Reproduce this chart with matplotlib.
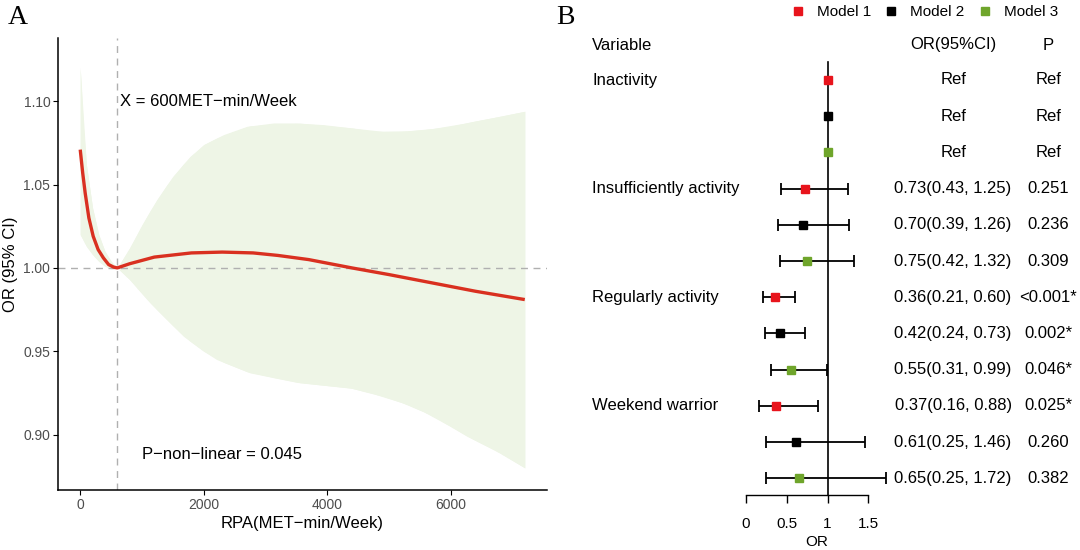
import numpy as np
import matplotlib.pyplot as plt
from matplotlib.lines import Line2D

plt.rcParams['font.family'] = ['Liberation Sans', 'DejaVu Sans']

# ---- Panel A: restricted cubic spline, OR vs RPA ----
rpa_x = [0, 40, 80, 140, 210, 290, 375, 460, 540, 600, 800, 1200, 1800, 2300,
         2800, 3200, 3700, 4400, 5000, 5700, 6400, 7200]
rpa_or = [1.071, 1.057, 1.045, 1.030, 1.019, 1.011, 1.006, 1.002, 1.0005, 1.000,
          1.0025, 1.0065, 1.009, 1.0095, 1.009, 1.0075, 1.005, 1.000, 0.996,
          0.991, 0.986, 0.981]

ci_up_x = [0, 50, 100, 200, 300, 400, 500, 600, 800, 1000, 1240, 1500, 1780,
           2000, 2320, 2700, 3130, 3500, 3940, 4400, 4750, 5200, 5560, 6000,
           6370, 6800, 7200]
ci_up = [1.12, 1.085, 1.062, 1.036, 1.020, 1.010, 1.004, 1.000, 1.012, 1.026,
         1.041, 1.055, 1.067, 1.074, 1.080, 1.085, 1.087, 1.087, 1.086, 1.084,
         1.082, 1.082, 1.083, 1.085, 1.088, 1.091, 1.094]
ci_lo_x = [0, 100, 200, 300, 400, 500, 600, 800, 1130, 1400, 1670, 2000, 2210,
           2750, 3560, 4370, 4900, 5300, 5720, 6260, 6700, 7200]
ci_lo = [1.020, 1.013, 1.008, 1.004, 1.001, 0.9995, 1.000, 0.993, 0.979, 0.969,
         0.959, 0.950, 0.945, 0.937, 0.931, 0.928, 0.923, 0.918, 0.911, 0.899,
         0.891, 0.880]

knot_x = 600
p_nonlinear = "0.045"

# ---- Panel B: forest plot ----
groups = ["Inactivity", "Insufficiently activity", "Regularly activity", "Weekend warrior"]
models = ["Model 1", "Model 2", "Model 3"]
model_colors = ["#E8141C", "#000000", "#6FA52B"]

or_m1 = [1.00, 0.73, 0.36, 0.37]
lo_m1 = [np.nan, 0.43, 0.21, 0.16]
hi_m1 = [np.nan, 1.25, 0.60, 0.88]
or_m2 = [1.00, 0.70, 0.42, 0.61]
lo_m2 = [np.nan, 0.39, 0.24, 0.25]
hi_m2 = [np.nan, 1.26, 0.73, 1.46]
or_m3 = [1.00, 0.75, 0.55, 0.65]
lo_m3 = [np.nan, 0.42, 0.31, 0.25]
hi_m3 = [np.nan, 1.32, 0.99, 1.72]

p_m1 = ["Ref", "0.251", "<0.001*", "0.025*"]
p_m2 = ["Ref", "0.236", "0.002*", "0.260"]
p_m3 = ["Ref", "0.309", "0.046*", "0.382"]

or_ticks = [0, 0.5, 1, 1.5]

fig = plt.figure(figsize=(10.8, 5.5), dpi=100)

# ---------------- Panel A ----------------
axA = fig.add_axes([58 / 1080, 60 / 550, 489 / 1080, 452 / 550])
axA.fill_between(ci_up_x, np.interp(ci_up_x, ci_lo_x, ci_lo), ci_up,
                 color="#EEF5E6", lw=0, zorder=1)
axA.fill_between(ci_lo_x, ci_lo, np.interp(ci_lo_x, ci_up_x, ci_up),
                 color="#EEF5E6", lw=0, zorder=1)
axA.axhline(1.0, color="#B0B0B0", lw=1, ls=(0, (5, 4)), zorder=2)
axA.axvline(knot_x, color="#B0B0B0", lw=1, ls=(0, (5, 4)), zorder=2)
axA.plot(rpa_x, rpa_or, color="#D93020", lw=2.4, zorder=3, solid_capstyle="butt")

axA.set_xlim(-360, 7560)
axA.set_ylim(0.8667, 1.138)
axA.set_xticks([0, 2000, 4000, 6000])
axA.set_yticks([0.90, 0.95, 1.00, 1.05, 1.10])
axA.set_yticklabels([f"{v:.2f}" for v in [0.90, 0.95, 1.00, 1.05, 1.10]])
axA.tick_params(labelsize=10, labelcolor="#4D4D4D", length=3.5, width=0.8, pad=2)
for s in ["top", "right"]:
    axA.spines[s].set_visible(False)
for s in ["left", "bottom"]:
    axA.spines[s].set_linewidth(1.1)
axA.set_xlabel("RPA(MET\u2212min/Week)", fontsize=12, labelpad=3)
axA.set_ylabel("OR (95% CI)", fontsize=12, labelpad=4)
axA.text(knot_x + 50, 1.10, "X = 600MET\u2212min/Week", fontsize=12, va="center", ha="left")
axA.text(1000, 0.888, "P\u2212non\u2212linear = " + p_nonlinear, fontsize=12,
         va="center", ha="left")
fig.text(18 / 1080, 1 - 17 / 550, "A", family="Liberation Serif", fontsize=20,
         ha="center", va="center")

# ---------------- Panel B ----------------
axB = fig.add_axes([0.5, 0.0, 0.5, 1.0])
px_per_unit = 81.9
x0_px = 745.6
axB.set_xlim((540 - x0_px) / px_per_unit, (1080 - x0_px) / px_per_unit)
row_px = 36.2
axB.set_ylim(1 + (550 - 80) / row_px, 1 - 80 / row_px)
axis_y = 1 + (495 - 80) / row_px
header_y = 1 - (80 - 45) / row_px

ors = [or_m1, or_m2, or_m3]
los = [lo_m1, lo_m2, lo_m3]
his = [hi_m1, hi_m2, hi_m3]
ps = [p_m1, p_m2, p_m3]

tr = axB.get_yaxis_transform()
axB.text(0.0963, header_y, "Variable", transform=tr, fontsize=12, va="center", ha="left")
axB.text(0.765, header_y, "OR(95%CI)", transform=tr, fontsize=12, va="center", ha="center")
axB.text(0.941, header_y, "P", transform=tr, fontsize=12, va="center", ha="center")

axB.plot([1, 1], [1 - (80 - 62) / row_px, axis_y], color="black", lw=1.2, zorder=1)

for g, name in enumerate(groups):
    axB.text(0.0963, 1 + 3 * g, name, transform=tr, fontsize=12, va="center", ha="left")
    for m in range(3):
        row = 1 + 3 * g + m
        val, lo, hi = ors[m][g], los[m][g], his[m][g]
        if np.isnan(lo):
            axB.plot(val, row, "s", color=model_colors[m], ms=6, zorder=3)
            txt = "Ref"
        else:
            axB.errorbar(val, row, xerr=[[val - lo], [hi - val]], fmt="none",
                         ecolor="black", elinewidth=1.3, capsize=4.2, capthick=1.3,
                         zorder=2)
            axB.plot(val, row, "s", color=model_colors[m], ms=6, zorder=3)
            txt = f"{val:.2f}({lo:.2f}, {hi:.2f})"
        axB.text(0.765, row, txt, transform=tr, fontsize=12, va="center", ha="center")
        axB.text(0.941, row, ps[m][g], transform=tr, fontsize=12, va="center", ha="center")

for s in ["top", "right", "left"]:
    axB.spines[s].set_visible(False)
axB.spines["bottom"].set_position(("data", axis_y))
axB.spines["bottom"].set_bounds(0, 1.5)
axB.spines["bottom"].set_linewidth(1.0)
axB.set_yticks([])
axB.set_xticks(or_ticks)
axB.set_xticklabels(["0", "0.5", "1", "1.5"])
axB.tick_params(axis="x", direction="out", length=6, width=1.0, labelsize=11, pad=10)
axB.set_xlabel("OR", fontsize=11)
axB.xaxis.set_label_coords((817 - 540) / 540, (550 - 535) / 550)
axB.patch.set_visible(False)

handles = [Line2D([], [], marker="s", ls="none", color=c, ms=6) for c in model_colors]
fig.legend(handles, models, loc="center", bbox_to_anchor=(925 / 1080, 1 - 12 / 550),
           ncol=3, frameon=False, fontsize=11, handlelength=0.8, handletextpad=0.85,
           columnspacing=0.9, borderpad=0, borderaxespad=0)
fig.text(565 / 1080, 1 - 17 / 550, "B", family="Liberation Serif", fontsize=20,
         ha="center", va="center")

fig.savefig("out.png", dpi=100)
